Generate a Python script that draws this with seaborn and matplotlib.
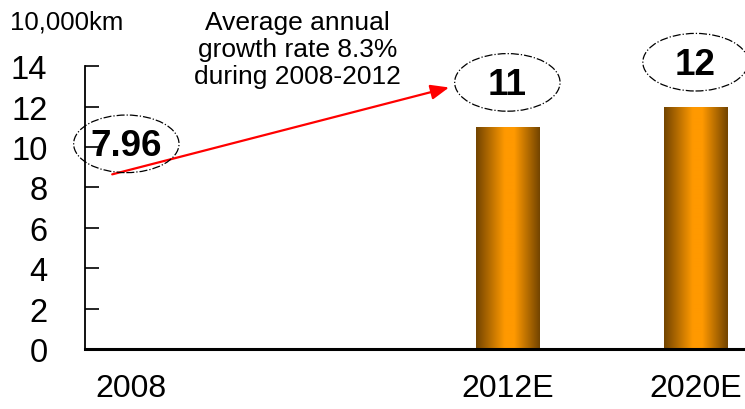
import numpy as np
import pandas as pd
import matplotlib
matplotlib.use('Agg')
import matplotlib.pyplot as plt
from matplotlib.patches import Ellipse
from matplotlib.colors import LinearSegmentedColormap
import seaborn as sns

years = ['2008', '2012E', '2020E']
lengths = [7.96, 11, 12]
slots = ['2008', ' ', '2012E', '2020E']  # blank slot keeps the gap after 2008
y_ticks = [0, 2, 4, 6, 8, 10, 12, 14]
unit_label = '10,000km'
note = 'Average annual\ngrowth rate 8.3%\nduring 2008-2012'

sns.set_style('white')
plt.rcParams['font.family'] = ['Liberation Sans', 'DejaVu Sans']
plt.rcParams['text.color'] = 'black'
plt.rcParams['xtick.color'] = 'black'
plt.rcParams['ytick.color'] = 'black'

data = pd.DataFrame({'year': years, 'length': lengths})

fig = plt.figure(figsize=(7.45, 4.10), dpi=100)
ax = fig.add_axes([0.114, 0.146, 0.884, 0.690])

sns.barplot(data=data, x='year', y='length', order=slots, width=0.335,
            color='#ff9900', linewidth=0, ax=ax)

# gradient fill (dark brown - orange - dark brown)
cmap = LinearSegmentedColormap.from_list(
    'bar', [(0, '#724400'), (0.45, '#ff9900'), (0.6, '#ff9900'), (1, '#724400')])
grad = np.linspace(0, 1, 256).reshape(1, -1)
for patch in list(ax.patches):
    x0 = patch.get_x()
    w = patch.get_width()
    h = patch.get_height()
    if abs(x0 + w / 2) < 0.5:
        patch.set_visible(False)  # 2008 bar not shown
        continue
    patch.set_facecolor('none')
    im = ax.imshow(grad, extent=[x0, x0 + w, 0, h], aspect='auto', cmap=cmap,
                   zorder=2, interpolation='bilinear')
    im.set_clip_path(patch)

ax.set_xlim(-0.245, 3.255)
ax.set_ylim(0, 14)

# value labels inside dash-dot ellipses
for yr, v in zip(years, lengths):
    pos = slots.index(yr)
    if pos == 0:
        pos = -0.025
    ax.text(pos, v + 2.1, f'{v:g}', ha='center', va='center', fontsize=26.5,
            fontweight='bold', clip_on=False, zorder=5)
    ax.add_patch(Ellipse((pos, v + 2.2), width=0.56, height=2.85, fill=False,
                         linestyle='-.', linewidth=0.9, edgecolor='black',
                         clip_on=False, zorder=5))

ax.annotate('', xy=(1.69, 12.95), xytext=(-0.1, 8.65),
            arrowprops=dict(arrowstyle='-|>,head_length=1.1,head_width=0.45',
                            color='red', lw=1.6, shrinkA=0, shrinkB=0),
            annotation_clip=False)
ax.text(0.885, 14.85, note, ha='center', va='center', fontsize=19,
        linespacing=1.15, clip_on=False)

fig.text(0.013, 0.945, unit_label, ha='left', va='center', fontsize=18.5)

ax.set_yticks(y_ticks)
ax.tick_params(axis='y', direction='in', length=10, width=1.2, pad=27,
               labelsize=23.5, left=True)
ax.tick_params(axis='x', length=0, pad=17, labelsize=23)
ax.set_xlabel('')
ax.set_ylabel('')

for side in ['top', 'right']:
    ax.spines[side].set_visible(False)
ax.spines['left'].set_linewidth(1.3)
ax.spines['left'].set_color('black')
ax.spines['bottom'].set_linewidth(2.2)
ax.spines['bottom'].set_color('black')

fig.savefig('out.png', dpi=100)
